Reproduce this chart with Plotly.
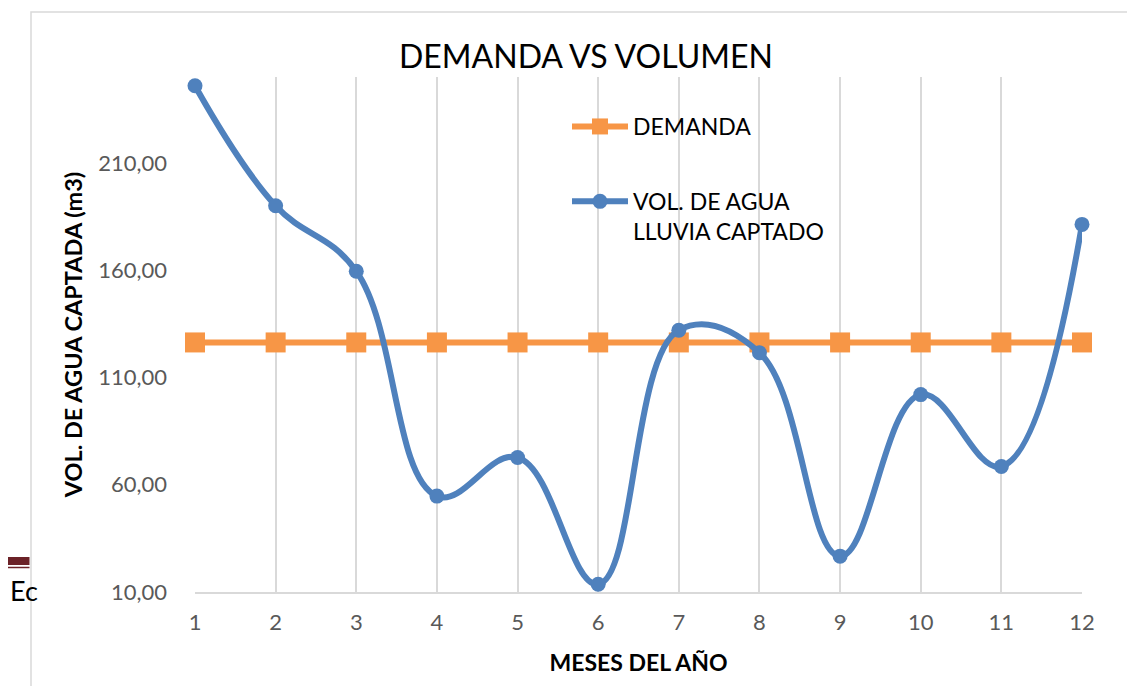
import plotly.graph_objects as go

# Datos
MESES = [1, 2, 3, 4, 5, 6, 7, 8, 9, 10, 11, 12]
VOL_CAPTADO = [245.9, 190.0, 159.5, 54.7, 72.7, 13.6, 132.0, 121.5, 26.7, 102.0, 68.5, 181.3]
DEMANDA = [126.3] * 12
Y_TICKS = [10, 60, 110, 160, 210]

AZUL = "#4F81BD"
NARANJA = "#F79646"
GRID = "#D9D9D9"
TICK_COLOR = "#595959"
FUENTE = "Lato"

fig = go.Figure()
fig.add_trace(go.Scatter(
    x=MESES, y=DEMANDA, name="DEMANDA", mode="lines+markers",
    line=dict(color=NARANJA, width=6),
    marker=dict(symbol="square", size=20, color=NARANJA),
    legendgroup="a", cliponaxis=False
))
fig.add_trace(go.Scatter(
    x=MESES, y=VOL_CAPTADO, name="VOL. DE AGUA<br>LLUVIA CAPTADO", mode="lines+markers",
    line=dict(color=AZUL, width=6, shape="spline", smoothing=1.15),
    marker=dict(symbol="circle", size=15, color=AZUL),
    legendgroup="b", cliponaxis=False
))

fig.update_layout(
    width=1135, height=686,
    margin=dict(l=187, r=61, t=69, b=102),
    paper_bgcolor="white", plot_bgcolor="white",
    separators=",.",
    font=dict(family=FUENTE, color="black"),
    title=dict(text="DEMANDA VS VOLUMEN", x=(586 - 195) / 887, xref="paper", xanchor="center",
               y=1 - 49 / 686, yanchor="middle", font=dict(size=32, color="black", family=FUENTE)),
    xaxis=dict(range=[1, 12], tickvals=MESES, showgrid=True, gridcolor=GRID, gridwidth=1.5,
               showline=True, linecolor=GRID, linewidth=1.5, zeroline=False,
               tickfont=dict(size=22, color=TICK_COLOR), ticklabelstandoff=10,
               title=dict(text="<b>MESES DEL AÑO</b>", font=dict(size=23, color="black"), standoff=21)),
    yaxis=dict(range=[10, 250], tickvals=Y_TICKS, tickformat=".2f", showgrid=False,
               showline=False, zeroline=False,
               tickfont=dict(size=22, color=TICK_COLOR), ticklabelstandoff=27,
               title=dict(text="<b>VOL. DE AGUA CAPTADA (m3)</b>", font=dict(size=23.5, color="black"), standoff=8)),
    legend=dict(x=(567 - 195) / 887, y=(592 - 105) / 515, xanchor="left", yanchor="top",
                bgcolor="rgba(0,0,0,0)", font=dict(size=23, color="black"),
                traceorder="grouped", tracegroupgap=42, valign="top", itemwidth=56),
    showlegend=True,
    shapes=[
        # borde del área del gráfico
        dict(type="rect", xref="paper", yref="paper",
             x0=(31 - 195) / 887, x1=1.5, y0=-0.5, y1=(592 - 12) / 515,
             line=dict(color=GRID, width=1.5), fillcolor="rgba(0,0,0,0)", layer="below"),
        # restos del documento a la izquierda
        dict(type="rect", xref="paper", yref="paper",
             x0=(5 - 195) / 887, x1=(29.5 - 195) / 887, y0=(592 - 565) / 515, y1=(592 - 557) / 515,
             line=dict(width=0), fillcolor="#6B2228"),
        dict(type="line", xref="paper", yref="paper",
             x0=(5 - 195) / 887, x1=(29.5 - 195) / 887, y0=(592 - 567.5) / 515, y1=(592 - 567.5) / 515,
             line=dict(color="#6B2228", width=1.5)),
    ],
    annotations=[
        dict(text="Ec", xref="paper", yref="paper", x=(8 - 195) / 887, y=(592 - 590) / 515,
             xanchor="left", yanchor="middle", showarrow=False,
             font=dict(size=27, color="black", family=FUENTE)),
    ],
)

fig.write_html("out.html")
